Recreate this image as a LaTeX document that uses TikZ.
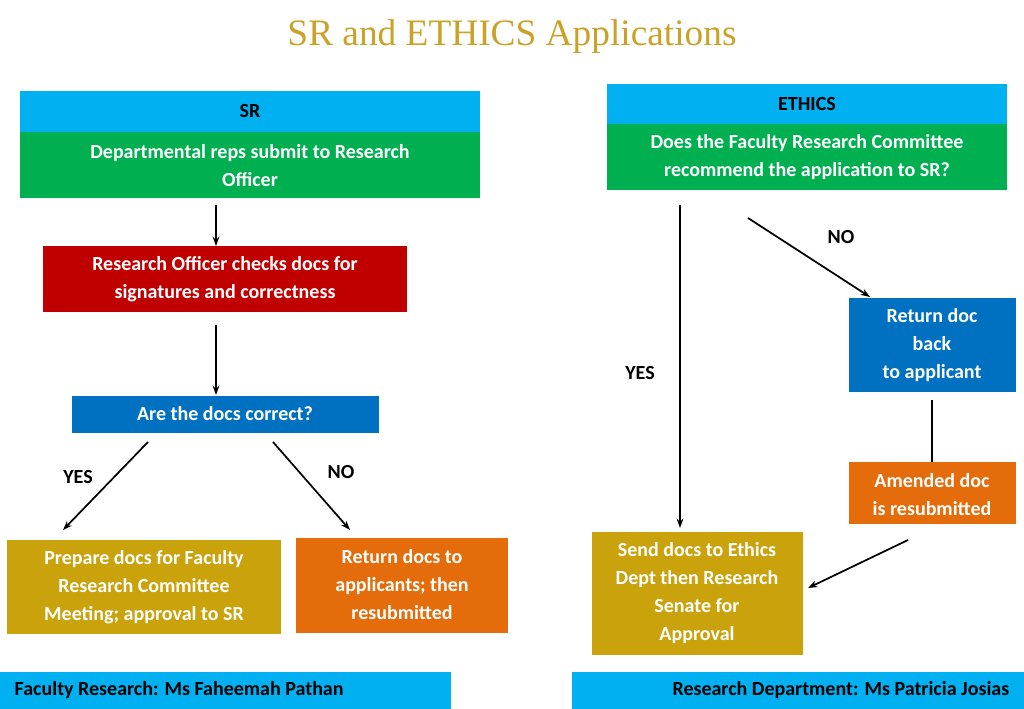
\documentclass[tikz,border=0pt]{standalone}
\usepackage{fontspec}
\usetikzlibrary{arrows.meta}
\setmainfont{Carlito}
\newfontfamily\titlefont{Liberation Serif}
\definecolor{hcyan}{HTML}{00B0F0}
\definecolor{hgreen}{HTML}{00B050}
\definecolor{hred}{HTML}{C00000}
\definecolor{hblue}{HTML}{0070C0}
\definecolor{horange}{HTML}{E46C0A}
\definecolor{hgold}{HTML}{C9A20C}
\definecolor{ttl}{HTML}{C9A227}
\begin{document}
\begin{tikzpicture}[x=0.75pt,y=-0.75pt,
  lbl/.style={font=\bfseries\fontsize{15}{21}\selectfont,align=center,text=white},
  blk/.style={font=\bfseries\fontsize{15}{21}\selectfont},
  arr/.style={-{Stealth[length=7pt,width=5pt]},line width=1.3pt}]
\useasboundingbox (0,0) rectangle (1024,709);
\node[font=\titlefont\fontsize{28}{32}\selectfont,text=ttl] (title) at (512,37) {SR and ETHICS Applications};
% left
\fill[hcyan] (20,91) rectangle (480,132);
\fill[hgreen] (20,132) rectangle (480,198);
\node[blk] (srh) at (250,111) {SR};
\node[lbl] (srg) at (250,166) {Departmental reps submit to Research\\Officer};
\fill[hred] (43,246) rectangle (407,312);
\node[lbl] (red) at (225,279) {Research Officer checks docs for\\signatures and correctness};
\fill[hblue] (72,396) rectangle (379,433);
\node[lbl] (q) at (225,414) {Are the docs correct?};
\fill[hgold] (7,540) rectangle (281,634);
\node[lbl] (prep) at (144,587) {Prepare docs for Faculty\\Research Committee\\Meeting; approval to SR};
\fill[horange] (296,538) rectangle (508,633);
\node[lbl] (ret) at (402,585) {Return docs to\\applicants; then\\resubmitted};
\coordinate (a1) at (216,205); \coordinate (a2) at (216,246);
\coordinate (b1) at (216,325); \coordinate (b2) at (216,395);
\coordinate (c1) at (148,442); \coordinate (c2) at (63,530);
\coordinate (d1) at (273,442); \coordinate (d2) at (350,530);
\draw[arr] (a1) -- (a2);
\draw[arr] (b1) -- (b2);
\draw[arr] (c1) -- (c2);
\draw[arr] (d1) -- (d2);
\node[blk] (yes1) at (78,477) {YES};
\node[blk] (no1) at (341,472) {NO};
% right
\fill[hcyan] (607,84) rectangle (1007,124);
\fill[hgreen] (607,124) rectangle (1007,190);
\node[blk] (eh) at (807,104) {ETHICS};
\node[lbl] (eg) at (807,157) {Does the Faculty Research Committee\\recommend the application to SR?};
\fill[hblue] (849,298) rectangle (1016,392);
\node[lbl] (rb) at (932,345) {Return doc\\back\\to applicant};
\fill[horange] (849,462) rectangle (1016,524);
\node[lbl] (am) at (932,495) {Amended doc\\is resubmitted};
\fill[hgold] (592,532) rectangle (803,655);
\node[lbl] (send) at (697,593) {Send docs to Ethics\\Dept then Research\\Senate for\\Approval};
\coordinate (e1) at (680,205); \coordinate (e2) at (680,528);
\coordinate (f1) at (748,218); \coordinate (f2) at (870,297);
\coordinate (g1) at (932,400); \coordinate (g2) at (932,462);
\coordinate (h1) at (908,540); \coordinate (h2) at (808,588);
\draw[arr] (e1) -- (e2);
\draw[arr] (f1) -- (f2);
\draw[line width=1.3pt] (g1) -- (g2);
\draw[arr] (h1) -- (h2);
\node[blk] (no2) at (841,237) {NO};
\node[blk] (yes2) at (640,373) {YES};
% footers
\fill[hcyan] (0,672) rectangle (451,709);
\fill[hcyan] (572,672) rectangle (1024,709);
\node[blk,anchor=west] (f1t) at (10,690) {Faculty Research: Ms Faheemah Pathan};
\node[blk,anchor=east] (f2t) at (1014,690) {Research Department: Ms Patricia Josias};
\end{tikzpicture}
\end{document}
